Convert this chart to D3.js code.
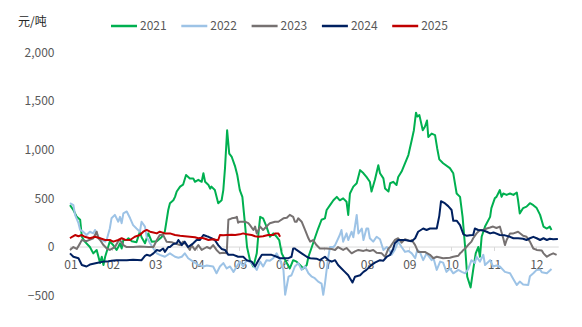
<!DOCTYPE html>
<html><head><meta charset="utf-8">
<script src="https://cdn.jsdelivr.net/npm/d3@7"></script>
<style>body{margin:0;background:#fff}svg{display:block}text{font-family:"Microsoft YaHei","Noto Sans CJK SC","Noto Sans",sans-serif}</style>
</head><body><svg id="c" width="582" height="327"></svg>
<script>
const unitLabel = "元/吨";
const monthLabels = ["01","02","03","04","05","06","07","08","09","10","11","12"];
const yTicks = [-500, 0, 500, 1000, 1500, 2000];
const seriesNames = ["2021","2022","2023","2024","2025"];
const seriesColors = ["#00B050","#9DC3E6","#767171","#002060","#C00000"];

// [month position (1 = start of Jan), value in 元/吨]
const s2021 = [[1.00,430],[1.08,380],[1.16,310],[1.24,280],[1.28,105],[1.35,55],[1.47,0],[1.55,-65],[1.63,-30],[1.71,-165],[1.75,-100],[1.79,-185],[1.83,-100],[1.90,0],[1.94,55],[2.02,20],[2.10,-30],[2.14,0],[2.18,38],[2.22,-15],[2.26,72],[2.34,72],[2.38,90],[2.46,60],[2.57,50],[2.65,157],[2.69,100],[2.77,38],[2.85,140],[2.93,55],[3.05,60],[3.16,100],[3.24,160],[3.32,380],[3.36,450],[3.44,480],[3.48,515],[3.52,570],[3.60,620],[3.67,640],[3.74,740],[3.83,705],[3.91,705],[3.95,670],[4.03,690],[4.11,670],[4.15,757],[4.19,670],[4.27,637],[4.31,600],[4.34,620],[4.42,585],[4.50,450],[4.58,480],[4.62,585],[4.66,810],[4.71,1200],[4.76,960],[4.82,925],[4.90,825],[4.95,740],[5.01,585],[5.07,515],[5.13,245],[5.18,0],[5.25,-135],[5.33,-200],[5.41,-65],[5.45,140],[5.49,310],[5.56,295],[5.64,210],[5.72,105],[5.80,140],[5.88,105],[5.94,72],[6.00,-65],[6.04,-100],[6.12,-165],[6.19,-220],[6.27,-135],[6.35,-150],[6.43,-185],[6.51,-220],[6.59,-185],[6.63,-100],[6.71,0],[6.78,90],[6.86,190],[6.94,280],[7.02,295],[7.06,380],[7.14,430],[7.22,480],[7.30,515],[7.37,480],[7.45,500],[7.53,465],[7.57,330],[7.61,550],[7.69,620],[7.77,655],[7.85,790],[7.93,757],[8.00,720],[8.08,670],[8.12,570],[8.20,690],[8.28,840],[8.32,757],[8.40,705],[8.44,600],[8.52,570],[8.56,655],[8.63,670],[8.71,637],[8.75,720],[8.83,775],[8.91,860],[8.99,945],[9.07,1100],[9.12,1200],[9.17,1380],[9.20,1340],[9.25,1355],[9.33,1200],[9.38,1235],[9.43,1300],[9.46,1130],[9.54,1165],[9.62,1150],[9.67,1015],[9.72,900],[9.81,860],[9.97,810],[10.05,757],[10.13,550],[10.21,515],[10.27,310],[10.33,0],[10.38,-305],[10.46,-415],[10.52,-235],[10.58,-65],[10.64,0],[10.68,-100],[10.72,105],[10.80,210],[10.92,310],[10.95,400],[11.03,500],[11.07,515],[11.11,550],[11.15,585],[11.19,515],[11.23,550],[11.31,535],[11.39,550],[11.47,535],[11.55,560],[11.58,480],[11.62,345],[11.70,400],[11.78,415],[11.86,450],[11.94,430],[12.02,400],[12.10,330],[12.18,210],[12.26,190],[12.33,210],[12.37,175]];

const s2022 = [[1.00,450],[1.08,430],[1.12,330],[1.20,245],[1.24,175],[1.31,157],[1.39,123],[1.47,157],[1.55,140],[1.59,175],[1.67,105],[1.75,72],[1.83,55],[1.87,80],[1.94,190],[1.98,295],[2.06,330],[2.14,260],[2.18,310],[2.22,245],[2.26,345],[2.34,365],[2.42,295],[2.49,225],[2.57,190],[2.65,157],[2.69,260],[2.77,210],[2.81,105],[2.89,38],[2.97,-15],[3.05,-65],[3.12,-80],[3.24,-100],[3.36,-65],[3.48,-100],[3.56,-110],[3.64,-100],[3.71,-65],[3.79,-115],[3.91,-150],[4.03,-185],[4.15,-200],[4.23,-190],[4.38,-200],[4.46,-270],[4.54,-200],[4.62,-165],[4.70,-220],[4.78,-200],[4.86,-255],[4.94,-200],[5.01,-150],[5.09,-200],[5.17,-135],[5.29,-165],[5.41,-235],[5.49,-150],[5.56,-200],[5.64,-135],[5.72,-140],[5.80,-115],[5.88,-65],[5.96,-135],[6.04,-235],[6.08,-490],[6.16,-305],[6.23,-290],[6.31,-200],[6.39,-165],[6.47,-235],[6.55,-200],[6.63,-270],[6.71,-305],[6.78,-320],[6.86,-355],[6.94,-375],[6.98,-490],[7.02,-375],[7.06,-235],[7.10,-100],[7.14,0],[7.22,0],[7.26,20],[7.37,123],[7.41,175],[7.45,55],[7.53,140],[7.57,72],[7.65,157],[7.69,100],[7.77,330],[7.81,140],[7.89,190],[7.93,72],[8.00,190],[8.04,190],[8.08,90],[8.16,55],[8.24,105],[8.32,80],[8.40,-30],[8.48,0],[8.52,-10],[8.59,-80],[8.67,-30],[8.75,55],[8.83,0],[8.91,-50],[8.99,-40],[9.07,-65],[9.15,-115],[9.20,-30],[9.26,-50],[9.34,-135],[9.42,-65],[9.54,-135],[9.58,-110],[9.66,-235],[9.74,-150],[9.81,-160],[9.89,-255],[9.97,-220],[10.05,-270],[10.17,-235],[10.25,-255],[10.33,-270],[10.40,-230],[10.48,-135],[10.56,-165],[10.60,-100],[10.68,-150],[10.76,-80],[10.80,-185],[10.92,-135],[10.99,-200],[11.07,-190],[11.15,-200],[11.27,-255],[11.39,-270],[11.47,-330],[11.55,-390],[11.62,-355],[11.70,-385],[11.82,-390],[11.86,-300],[11.94,-270],[12.02,-235],[12.10,-230],[12.14,-260],[12.26,-270],[12.37,-225]];

const s2023 = [[1.00,-30],[1.08,0],[1.16,-20],[1.24,40],[1.28,72],[1.39,60],[1.55,90],[1.63,157],[1.67,90],[1.71,72],[1.79,20],[1.87,-15],[1.94,-30],[2.06,0],[2.14,60],[2.18,72],[2.26,20],[2.34,0],[2.49,0],[2.65,5],[2.85,0],[2.97,0],[3.05,72],[3.12,123],[3.20,123],[3.28,55],[3.40,50],[3.52,30],[3.60,20],[3.67,55],[3.75,20],[3.83,-30],[3.87,20],[3.95,-30],[4.03,20],[4.11,-30],[4.19,-10],[4.23,0],[4.31,-15],[4.38,20],[4.46,-30],[4.54,-65],[4.62,-60],[4.70,-65],[4.74,280],[4.82,295],[4.90,300],[4.94,310],[4.97,250],[5.01,260],[5.13,260],[5.21,245],[5.25,225],[5.33,175],[5.37,210],[5.41,140],[5.49,210],[5.56,175],[5.64,210],[5.72,245],[5.84,260],[5.92,260],[6.04,295],[6.12,300],[6.19,330],[6.27,310],[6.31,260],[6.35,260],[6.39,295],[6.47,260],[6.55,175],[6.63,90],[6.67,55],[6.74,72],[6.82,20],[6.90,-15],[7.06,-15],[7.18,-20],[7.26,-30],[7.33,0],[7.45,-30],[7.53,-10],[7.65,-65],[7.73,-45],[7.81,-30],[7.93,-40],[8.00,-30],[8.08,-40],[8.16,-30],[8.24,-60],[8.36,-65],[8.44,-100],[8.52,-15],[8.56,0],[8.59,20],[8.67,72],[8.75,90],[8.83,45],[8.91,80],[9.03,60],[9.07,72],[9.15,20],[9.22,-50],[9.38,-50],[9.50,-80],[9.58,-115],[9.66,-100],[9.81,-115],[9.97,-110],[10.05,-100],[10.17,-90],[10.21,-65],[10.25,-50],[10.29,-30],[10.33,-15],[10.40,20],[10.48,55],[10.52,90],[10.60,140],[10.68,175],[10.76,175],[10.84,190],[10.92,200],[10.99,210],[11.07,195],[11.15,210],[11.23,90],[11.27,20],[11.31,72],[11.39,140],[11.47,140],[11.58,157],[11.70,115],[11.78,105],[11.86,55],[11.94,-15],[12.02,-30],[12.14,-35],[12.18,-65],[12.26,-100],[12.33,-80],[12.41,-65],[12.49,-80]];

const s2024 = [[1.00,-65],[1.08,-100],[1.20,-115],[1.28,-185],[1.39,-200],[1.47,-180],[1.63,-165],[1.79,-150],[1.87,-150],[1.98,-140],[2.10,-135],[2.18,-135],[2.34,-135],[2.49,-130],[2.69,-135],[2.77,-90],[2.81,-80],[2.89,-90],[2.97,-65],[3.05,-30],[3.12,-40],[3.20,-15],[3.24,-50],[3.32,0],[3.36,0],[3.44,30],[3.52,38],[3.56,72],[3.64,20],[3.71,55],[3.79,0],[3.91,38],[3.99,72],[4.07,72],[4.15,123],[4.23,110],[4.27,105],[4.34,90],[4.42,72],[4.50,20],[4.58,-20],[4.66,-30],[4.74,-80],[4.86,-80],[4.97,-100],[5.09,-100],[5.17,-135],[5.29,-150],[5.37,-200],[5.45,-135],[5.53,-80],[5.64,-80],[5.76,-80],[5.88,-100],[5.96,-115],[6.08,-115],[6.16,-115],[6.23,-100],[6.27,-15],[6.31,-15],[6.35,-30],[6.47,-65],[6.59,-100],[6.67,-115],[6.82,-120],[6.90,-135],[7.02,-100],[7.10,-135],[7.18,-150],[7.26,-135],[7.33,-185],[7.41,-220],[7.49,-255],[7.57,-290],[7.61,-320],[7.67,-365],[7.73,-305],[7.85,-290],[7.93,-255],[8.00,-235],[8.12,-185],[8.20,-160],[8.32,-135],[8.40,-140],[8.48,-100],[8.56,-80],[8.63,-20],[8.67,38],[8.75,72],[8.91,72],[9.07,60],[9.15,90],[9.22,157],[9.34,190],[9.42,175],[9.50,190],[9.58,190],[9.66,190],[9.72,320],[9.76,470],[9.85,450],[9.93,420],[10.01,380],[10.05,270],[10.13,270],[10.21,225],[10.29,130],[10.37,115],[10.44,120],[10.52,123],[10.56,190],[10.64,175],[10.76,170],[10.84,157],[10.92,140],[11.00,150],[11.15,123],[11.27,120],[11.39,105],[11.47,90],[11.58,90],[11.70,85],[11.78,72],[11.86,90],[11.94,105],[12.02,90],[12.10,72],[12.18,90],[12.26,72],[12.33,85],[12.41,80],[12.52,82]];

const s2025 = [[1.00,90],[1.05,105],[1.12,123],[1.20,110],[1.28,123],[1.35,105],[1.47,90],[1.59,105],[1.71,90],[1.83,72],[1.94,72],[2.02,55],[2.14,72],[2.22,90],[2.30,75],[2.42,72],[2.53,105],[2.65,123],[2.73,157],[2.81,175],[2.89,157],[2.97,150],[3.05,140],[3.12,157],[3.24,140],[3.36,140],[3.48,123],[3.60,115],[3.71,110],[3.83,105],[3.95,100],[4.03,90],[4.11,95],[4.19,85],[4.27,72],[4.38,80],[4.46,72],[4.50,72],[4.54,123],[4.62,120],[4.70,123],[4.82,125],[4.90,123],[5.01,130],[5.09,140],[5.17,130],[5.29,123],[5.37,110],[5.45,105],[5.56,110],[5.68,123],[5.80,123],[5.84,140],[5.92,140],[5.96,105]];

const seriesData = [s2021, s2022, s2023, s2024, s2025];

const svg = d3.select("#c");
const x = d3.scaleLinear().domain([1, 13]).range([70, 578.2]);
const y = d3.scaleLinear().domain([-500, 2000]).range([295.7, 52.3]);
const textColor = "#595959";

// y axis labels
const fmt = d3.format(",");
svg.append("g").selectAll("text").data(yTicks).join("text")
  .attr("x", 54.5).attr("y", d => y(d)).attr("dy", "0.35em")
  .attr("text-anchor", "end").attr("font-size", 12).attr("fill", textColor)
  .text(d => fmt(d));

svg.append("text").attr("x", 18).attr("y", 22).attr("dy", "0.35em")
  .attr("font-size", 12).attr("fill", "#262626").text(unitLabel);

// zero axis line
svg.append("line").attr("x1", x(1)).attr("x2", x(12.54))
  .attr("y1", y(0)).attr("y2", y(0)).attr("stroke", "#D9D9D9").attr("stroke-width", 1);
svg.append("g").selectAll("line").data(monthLabels).join("line")
  .attr("x1", (d,i) => Math.round(x(i+1)) + 0.5).attr("x2", (d,i) => Math.round(x(i+1)) + 0.5)
  .attr("y1", y(0)).attr("y2", y(0) + 4).attr("stroke", "#D9D9D9");
svg.append("g").selectAll("text").data(monthLabels).join("text")
  .attr("x", (d,i) => x(i+1) + 1).attr("y", 265).attr("dy", "0.35em")
  .attr("text-anchor", "middle").attr("font-size", 12).attr("fill", textColor)
  .text(d => d);

// lines
const line = d3.line().x(d => x(d[0])).y(d => y(d[1]));
svg.append("g").selectAll("path").data(seriesData).join("path")
  .attr("d", d => line(d)).attr("fill", "none")
  .attr("stroke", (d,i) => seriesColors[i]).attr("stroke-width", 2)
  .attr("stroke-linejoin", "round");

// legend
const lg = svg.append("g").selectAll("g").data(seriesNames).join("g")
  .attr("transform", (d,i) => `translate(${111 + i*70.3},26)`);
lg.append("line").attr("x1", 0).attr("x2", 26).attr("y1", 0).attr("y2", 0)
  .attr("stroke", (d,i) => seriesColors[i]).attr("stroke-width", 2.5);
lg.append("text").attr("x", 29).attr("y", 0).attr("dy", "0.35em")
  .attr("font-size", 12).attr("fill", textColor).text(d => d);
</script></body></html>
